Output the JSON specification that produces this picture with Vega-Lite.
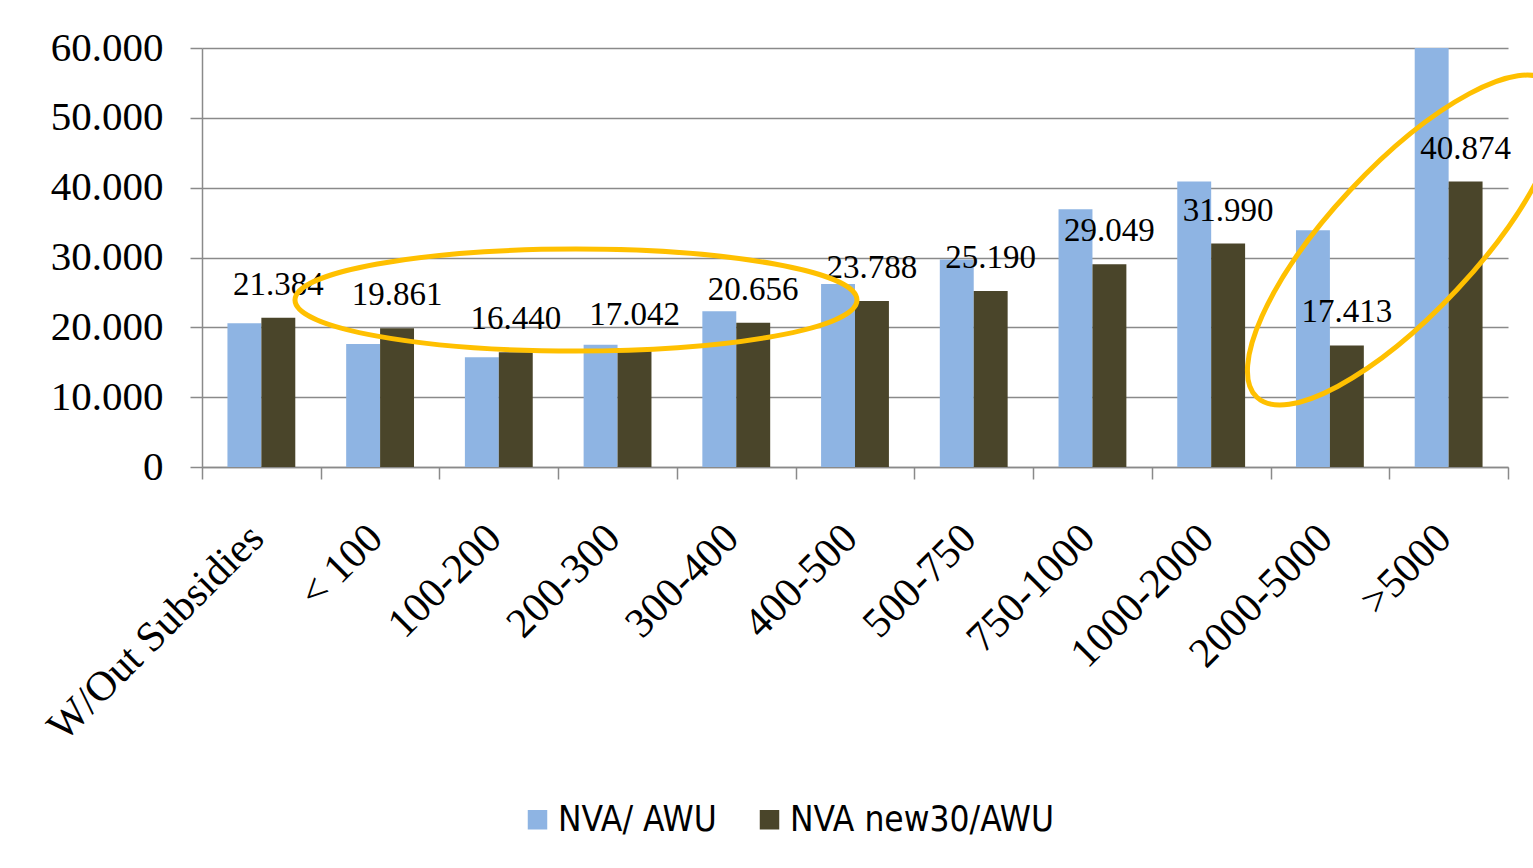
{
  "$schema": "https://vega.github.io/schema/vega-lite/v6.json",
  "autosize": {"type": "none"},
  "padding": {"left": 202, "top": 48, "right": 25, "bottom": 401},
  "width": 1306,
  "height": 419,
  "background": "white",
  "config": {
    "view": {"stroke": null},
    "locale": {"number": {"decimal": ",", "thousands": ".", "grouping": [3], "currency": ["", " €"]}}
  },
  "datasets": {
    "bars": [
      {"cat": "W/Out Subsidies", "series": "NVA/ AWU", "value": 20600},
      {"cat": "W/Out Subsidies", "series": "NVA new30/AWU", "value": 21384},
      {"cat": "< 100", "series": "NVA/ AWU", "value": 17600},
      {"cat": "< 100", "series": "NVA new30/AWU", "value": 19861},
      {"cat": "100-200", "series": "NVA/ AWU", "value": 15700},
      {"cat": "100-200", "series": "NVA new30/AWU", "value": 16440},
      {"cat": "200-300", "series": "NVA/ AWU", "value": 17500},
      {"cat": "200-300", "series": "NVA new30/AWU", "value": 17042},
      {"cat": "300-400", "series": "NVA/ AWU", "value": 22300},
      {"cat": "300-400", "series": "NVA new30/AWU", "value": 20656},
      {"cat": "400-500", "series": "NVA/ AWU", "value": 26200},
      {"cat": "400-500", "series": "NVA new30/AWU", "value": 23788},
      {"cat": "500-750", "series": "NVA/ AWU", "value": 29700},
      {"cat": "500-750", "series": "NVA new30/AWU", "value": 25190},
      {"cat": "750-1000", "series": "NVA/ AWU", "value": 36900},
      {"cat": "750-1000", "series": "NVA new30/AWU", "value": 29049},
      {"cat": "1000-2000", "series": "NVA/ AWU", "value": 40900},
      {"cat": "1000-2000", "series": "NVA new30/AWU", "value": 31990},
      {"cat": "2000-5000", "series": "NVA/ AWU", "value": 33900},
      {"cat": "2000-5000", "series": "NVA new30/AWU", "value": 17413},
      {"cat": ">5000", "series": "NVA/ AWU", "value": 60000},
      {"cat": ">5000", "series": "NVA new30/AWU", "value": 40874}
    ]
  },
  "resolve": {"scale": {"x": "independent"}},
  "layer": [
    {
      "data": {"name": "bars"},
      "mark": {"type": "bar"},
      "encoding": {
        "x": {
          "field": "cat", "type": "nominal", "sort": null,
          "scale": {"paddingInner": 0, "paddingOuter": 0},
          "axis": {
            "title": null,
            "tickBand": "extent",
            "tickExtra": true,
            "tickSize": 12,
            "tickColor": "#8a8a8a",
            "tickWidth": 1.5,
            "domainColor": "#8a8a8a",
            "domainWidth": 1.5,
            "labelAngle": -45,
            "labelAlign": "right",
            "labelBaseline": "middle",
            "labelPadding": 52,
            "labelOffset": -5,
            "labelFont": "Liberation Serif",
            "labelFontSize": 42,
            "labelColor": "#000000",
            "labelLimit": 1000
          }
        },
        "xOffset": {
          "field": "series", "type": "nominal",
          "sort": ["NVA/ AWU", "NVA new30/AWU"],
          "scale": {"paddingInner": 0, "paddingOuter": 0.75}
        },
        "y": {
          "field": "value", "type": "quantitative",
          "scale": {"domain": [0, 60000], "nice": false},
          "axis": {
            "title": null,
            "values": [0, 10000, 20000, 30000, 40000, 50000, 60000],
            "format": ",.0f",
            "tickSize": 12,
            "tickColor": "#8a8a8a",
            "tickWidth": 1.5,
            "gridColor": "#8a8a8a",
            "gridWidth": 1.5,
            "domainColor": "#8a8a8a",
            "domainWidth": 1.5,
            "labelPadding": 27,
            "labelFont": "Liberation Serif",
            "labelFontSize": 41,
            "labelColor": "#000000"
          }
        },
        "color": {
          "field": "series", "type": "nominal",
          "scale": {"domain": ["NVA/ AWU", "NVA new30/AWU"], "range": ["#8EB4E3", "#4A452A"]},
          "legend": {
            "title": null,
            "orient": "none",
            "legendX": 318,
            "legendY": 754,
            "direction": "horizontal",
            "symbolType": "square",
            "symbolSize": 380,
            "symbolStrokeWidth": 0,
            "labelFont": "Liberation Sans Narrow, DejaVu Sans Condensed, Liberation Sans",
            "labelFontSize": 35,
            "labelColor": "#000000",
            "labelOffset": 3,
            "columnPadding": 35,
            "labelLimit": 1000
          }
        }
      }
    },
    {
      "data": {"name": "bars"},
      "transform": [{"filter": "datum.series == 'NVA new30/AWU'"}],
      "mark": {"type": "text", "baseline": "alphabetic", "dy": -23, "font": "Liberation Serif", "fontSize": 33, "color": "#000000"},
      "encoding": {
        "x": {"field": "cat", "type": "nominal", "sort": null, "scale": {"paddingInner": 0, "paddingOuter": 0}, "axis": null},
        "xOffset": {"field": "series", "type": "nominal", "sort": ["NVA/ AWU", "NVA new30/AWU"], "scale": {"paddingInner": 0, "paddingOuter": 0.75}},
        "y": {"field": "value", "type": "quantitative"},
        "text": {"field": "value", "type": "quantitative", "format": ",.0f"}
      }
    },
    {
      "data": {"values": [{"px": 3.15, "py": 23900}]},
      "mark": {
        "type": "point", "filled": false, "color": "#FFC000", "strokeWidth": 5, "opacity": 1,
        "size": 315844,
        "shape": "M 1 0 C 1 0.1002 0.5523 0.1815 0 0.1815 C -0.5523 0.1815 -1 0.1002 -1 0 C -1 -0.1002 -0.5523 -0.1815 0 -0.1815 C 0.5523 -0.1815 1 -0.1002 1 0 Z"
      },
      "encoding": {
        "x": {"field": "px", "type": "quantitative", "scale": {"domain": [0, 11], "nice": false, "zero": false}, "axis": null},
        "y": {"field": "py", "type": "quantitative"}
      }
    },
    {
      "data": {"values": [{"px": 10.12, "py": 32500}]},
      "mark": {
        "type": "point", "filled": false, "color": "#FFC000", "strokeWidth": 5, "opacity": 1,
        "size": 184900, "angle": -47,
        "shape": "M 1 0 C 1 0.1875 0.5523 0.3395 0 0.3395 C -0.5523 0.3395 -1 0.1875 -1 0 C -1 -0.1875 -0.5523 -0.3395 0 -0.3395 C 0.5523 -0.3395 1 -0.1875 1 0 Z"
      },
      "encoding": {
        "x": {"field": "px", "type": "quantitative", "scale": {"domain": [0, 11], "nice": false, "zero": false}, "axis": null},
        "y": {"field": "py", "type": "quantitative"}
      }
    }
  ]
}
